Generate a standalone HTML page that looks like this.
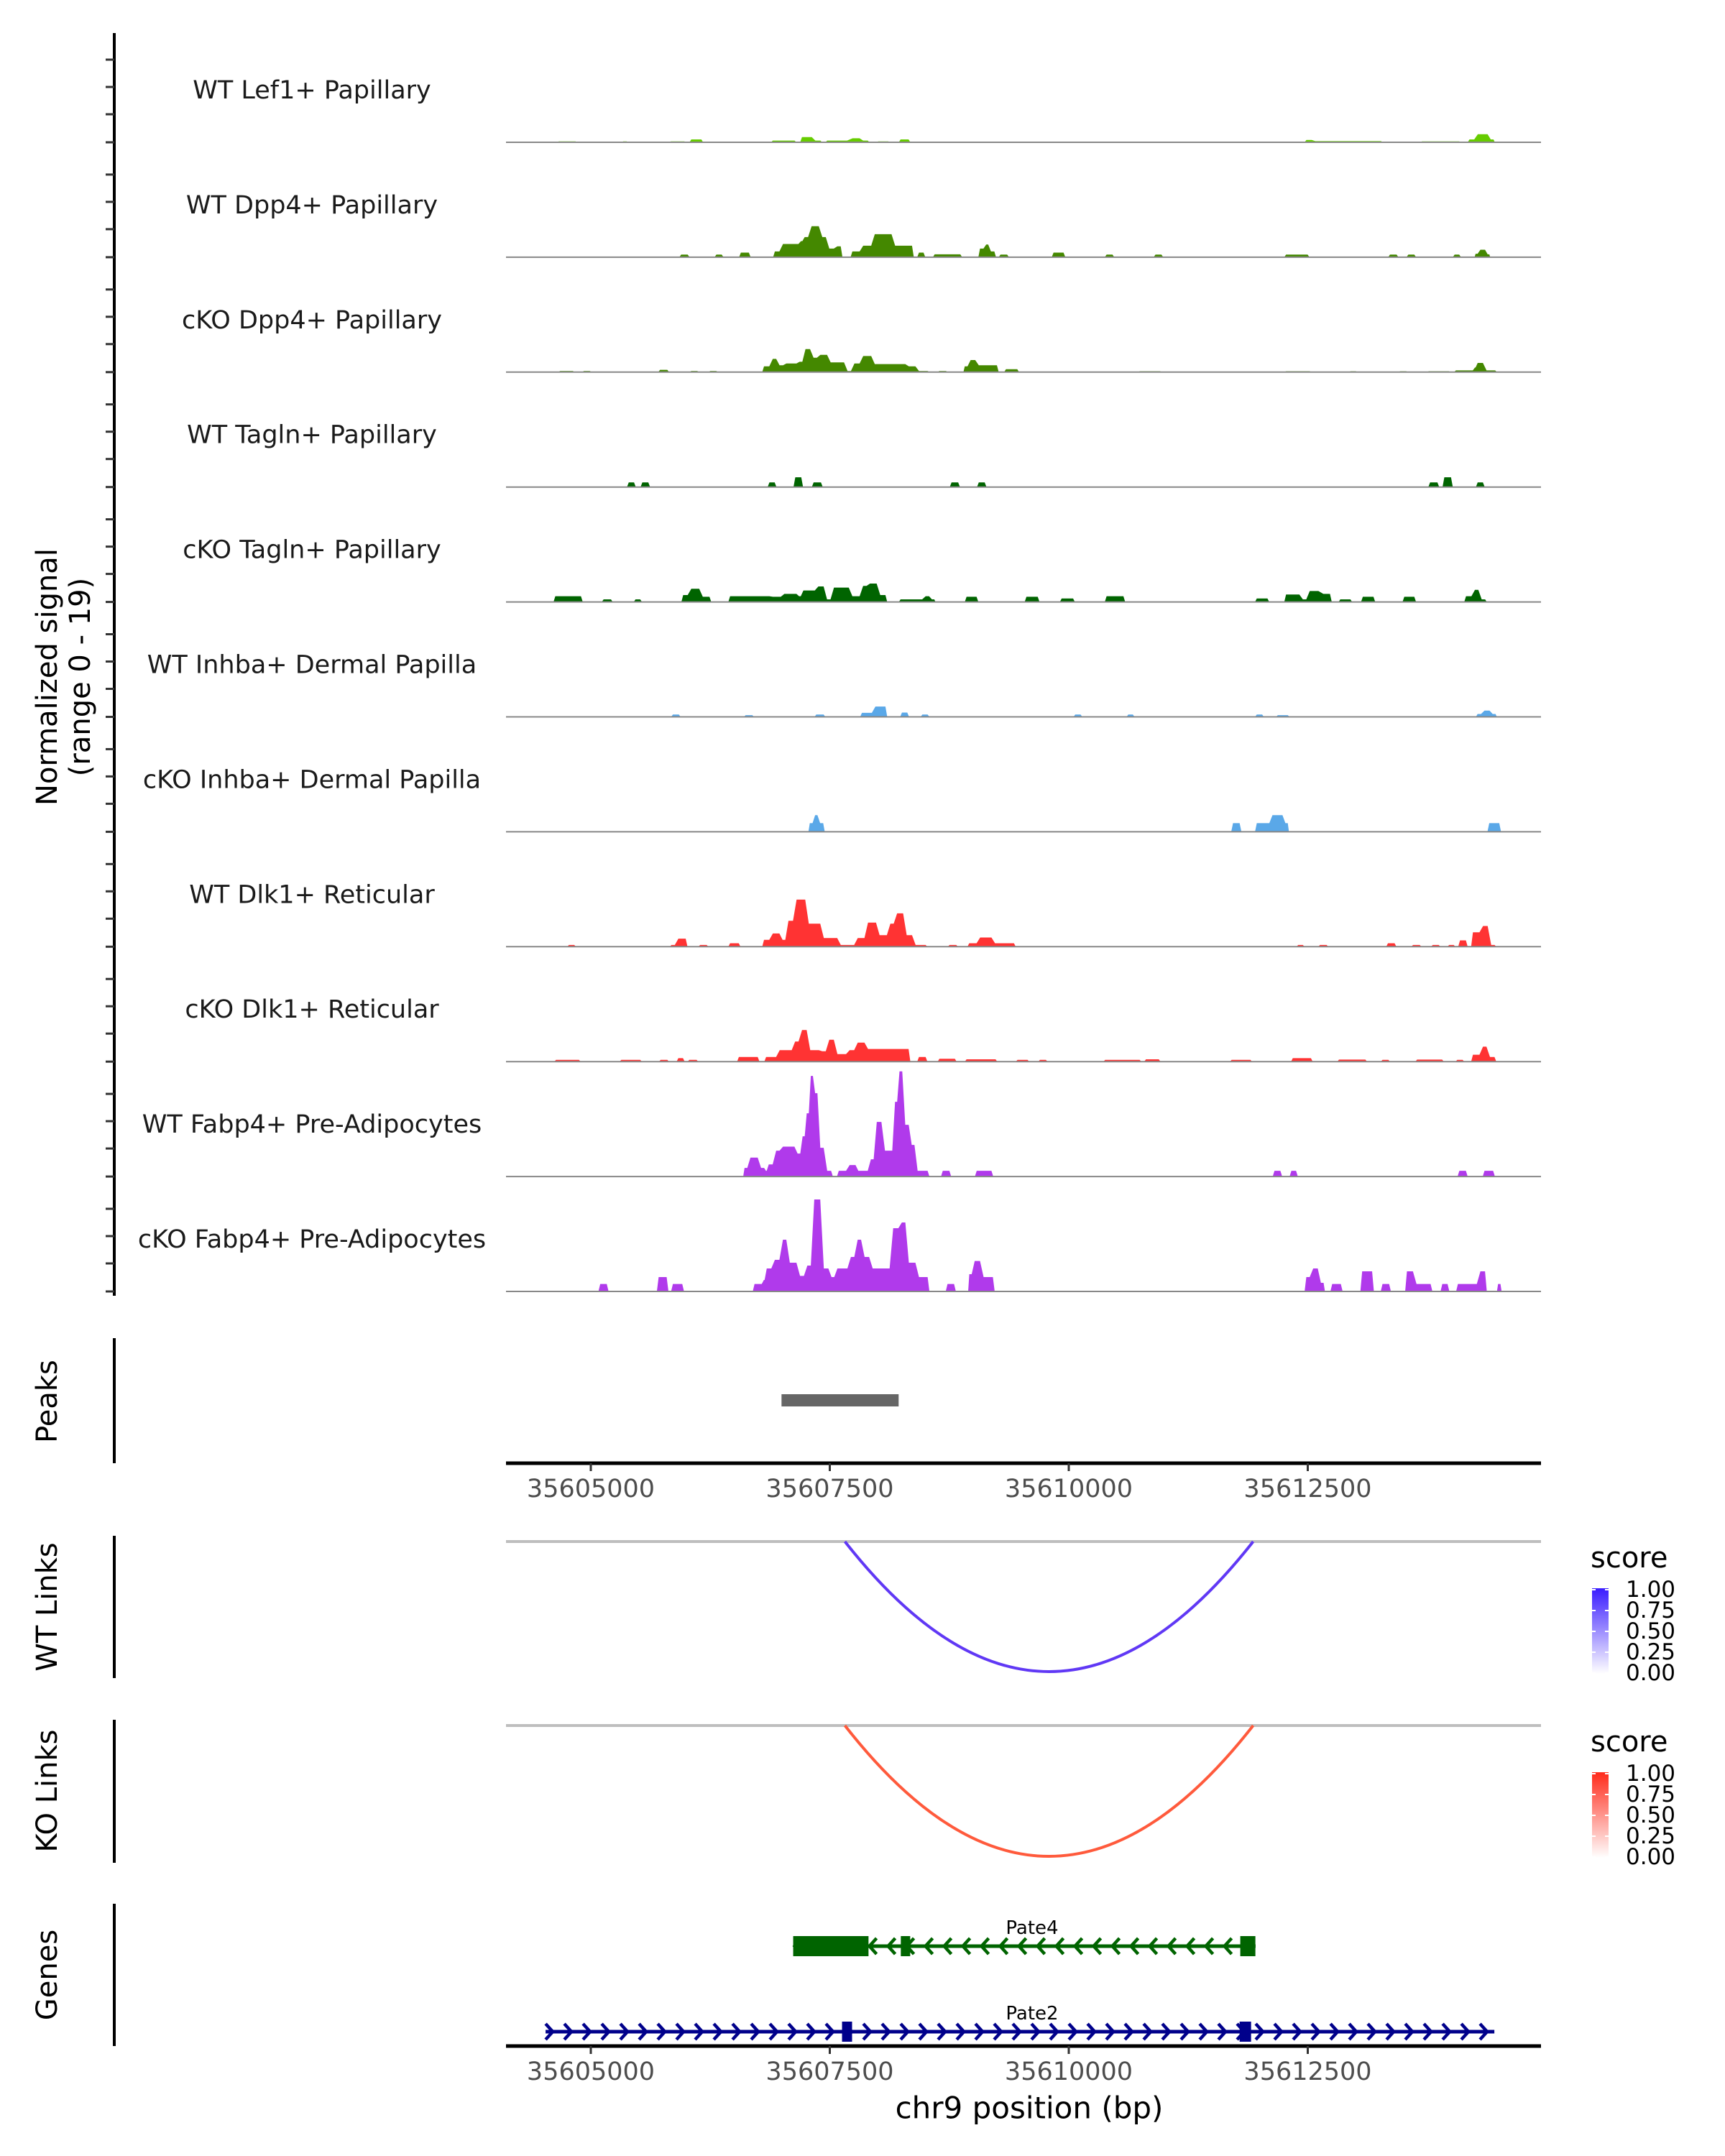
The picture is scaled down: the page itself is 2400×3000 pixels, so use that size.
<!DOCTYPE html>
<html><head><meta charset="utf-8"><style>
html,body{margin:0;padding:0;background:#fff;}
svg{display:block;font-family:"DejaVu Sans","Liberation Sans",sans-serif;}
</style></head><body>
<svg id="chart" width="2400" height="3000" viewBox="0 0 2400 3000" xmlns="http://www.w3.org/2000/svg">
<defs>
<linearGradient id="gWT" x1="0" y1="1" x2="0" y2="0"><stop offset="0" stop-color="#ffffff"/><stop offset="1" stop-color="#3a1cff"/></linearGradient>
<linearGradient id="gKO" x1="0" y1="1" x2="0" y2="0"><stop offset="0" stop-color="#ffffff"/><stop offset="1" stop-color="#ff2a1a"/></linearGradient>
</defs>
<g id="tracks"></g>
<g id="lower"></g>
</svg>
<script>
const trackNames = ["WT Lef1+ Papillary","WT Dpp4+ Papillary","cKO Dpp4+ Papillary","WT Tagln+ Papillary","cKO Tagln+ Papillary","WT Inhba+ Dermal Papilla","cKO Inhba+ Dermal Papilla","WT Dlk1+ Reticular","cKO Dlk1+ Reticular","WT Fabp4+ Pre-Adipocytes","cKO Fabp4+ Pre-Adipocytes"];
const trackColors = ["#66cc00","#448800","#448800","#006400","#006400","#5aa8e8","#5aa8e8","#ff3333","#ff3333","#b03aeb","#b03aeb"];
const xTicks = [35605000,35607500,35610000,35612500];
const yRangeMax = 19;
const lef1 = [[35604646,35604859,.15],[35605321,35605392,.15],[35605819,35605997,.15],[35606032,35606175,.5],[35606885,35607150,.3],[35607190,35607330,.9],[35607330,35607420,.3],[35607454,35607700,.3],[35607720,35607830,.7],[35607830,35607916,.3],[35607988,35608130,.15],[35608222,35608343,.5],[35608592,35609054,.1],[35609907,35610156,.1],[35612467,35612560,.4],[35612560,35613285,.2],[35613676,35614102,.15],[35614173,35614260,.5],[35614260,35614400,1.4],[35614400,35614457,.5]];
const wtDpp4 = [[35605926,35606032,.45],[35606295,35606388,.45],[35606551,35606672,.8],[35606907,35606992,1.0],[35606992,35607191,2.3],[35607191,35607220,2.8],[35607220,35607291,3.5],[35607291,35607404,5.4],[35607404,35607476,3.5],[35607476,35607561,1.5],[35607561,35607632,1.9],[35607717,35607831,1.0],[35607831,35607952,2.0],[35607952,35608165,4.0],[35608165,35608379,2.0],[35608414,35608499,.8],[35608578,35608884,.5],[35609054,35609125,1.5],[35609125,35609168,2.2],[35609168,35609239,1.0],[35609267,35609374,.45],[35609822,35609964,.8],[35610377,35610476,.45],[35610888,35610988,.45],[35612254,35612517,.45],[35613341,35613448,.45],[35613533,35613633,.45],[35614017,35614103,.45],[35614245,35614287,.6],[35614287,35614373,1.3],[35614373,35614408,.5]];
const koDpp4 = [[35604660,35604831,.2],[35604909,35605008,.2],[35605705,35605819,.4],[35606032,35606132,.2],[35606231,35606331,.2],[35606793,35606886,1.0],[35606886,35606957,2.3],[35606957,35607028,1.2],[35607028,35607170,1.5],[35607170,35607227,1.8],[35607227,35607312,4.0],[35607312,35607383,2.5],[35607383,35607490,3.0],[35607490,35607668,1.7],[35607668,35607739,.2],[35607739,35607831,1.5],[35607831,35607952,2.8],[35607952,35608308,1.4],[35608308,35608414,1.0],[35608414,35608542,.2],[35608628,35608734,.2],[35608898,35608955,1.0],[35608955,35609040,2.1],[35609040,35609267,1.2],[35609324,35609480,.5],[35610725,35610974,.15],[35612254,35612538,.15],[35612929,35613021,.15],[35613448,35613548,.15],[35613747,35613995,.15],[35614031,35614245,.3],[35614245,35614259,.8],[35614259,35614351,1.6],[35614351,35614479,.3]];
const wtTagln = [[35605378,35605471,.8],[35605520,35605620,.8],[35606850,35606942,.8],[35607120,35607220,1.7],[35607312,35607426,.8],[35608755,35608862,.8],[35609040,35609139,.8],[35613761,35613875,.8],[35613910,35614017,1.7],[35614259,35614351,.8]];
const koTagln = [[35604610,35604916,1.0],[35605115,35605229,.45],[35605449,35605535,.45],[35605947,35606032,1.2],[35606032,35606153,2.3],[35606153,35606260,.9],[35606438,35606886,1.0],[35606886,35607006,.9],[35607006,35607170,1.4],[35607170,35607205,1.0],[35607205,35607362,2.0],[35607362,35607454,2.7],[35607454,35607525,.45],[35607525,35607717,2.5],[35607717,35607831,1.0],[35607831,35607902,2.8],[35607902,35608009,3.2],[35608009,35608101,1.2],[35608222,35608329,.45],[35608343,35608485,.45],[35608485,35608556,1.0],[35608556,35608606,.45],[35608912,35609054,.9],[35609538,35609694,.9],[35609907,35610064,.6],[35610377,35610590,1.0],[35611948,35612097,.6],[35612254,35612431,1.3],[35612431,35612502,.45],[35612502,35612630,1.9],[35612644,35612751,1.4],[35612822,35612965,.45],[35613057,35613206,.9],[35613491,35613633,.9],[35614137,35614231,1.0],[35614231,35614302,2.1],[35614302,35614373,.45]];
const wtInhba = [[35605840,35605940,.4],[35606601,35606708,.3],[35607340,35607454,.4],[35607817,35607959,.7],[35607959,35608101,1.8],[35608236,35608329,.75],[35608450,35608542,.4],[35610049,35610142,.4],[35610604,35610689,.4],[35611948,35612041,.4],[35612168,35612310,.3],[35614259,35614330,.5],[35614330,35614420,1.1],[35614420,35614479,.5]];
const koInhba = [[35607277,35607334,1.5],[35607334,35607383,2.9],[35607383,35607447,1.5],[35611699,35611806,1.5],[35611948,35612041,1.5],[35612055,35612112,1.5],[35612112,35612254,2.9],[35612254,35612303,1.5],[35614380,35614522,1.5]];
const wtDlk1 = [[35604753,35604845,.3],[35605826,35605897,.3],[35605897,35606011,1.4],[35606125,35606231,.3],[35606438,35606566,.6],[35606793,35606886,1.2],[35606886,35606992,2.3],[35606992,35607049,1.2],[35607049,35607134,4.5],[35607134,35607262,8.2],[35607262,35607419,4.0],[35607419,35607596,1.5],[35607596,35607774,.3],[35607774,35607881,1.5],[35607881,35608002,4.2],[35608002,35608116,2.0],[35608116,35608186,4.0],[35608186,35608286,5.8],[35608286,35608379,2.0],[35608379,35608521,.3],[35608734,35608841,.3],[35608940,35609054,.6],[35609054,35609210,1.6],[35609210,35609445,.6],[35612381,35612467,.3],[35612609,35612716,.3],[35613320,35613427,.6],[35613583,35613690,.3],[35613789,35613889,.3],[35613960,35614045,.3],[35614074,35614173,1.1],[35614209,35614315,2.5],[35614315,35614401,3.6],[35614401,35614472,.3]];
const koDlk1 = [[35604617,35604895,.3],[35605300,35605535,.3],[35605712,35605819,.3],[35605897,35605983,.6],[35606011,35606125,.3],[35606530,35606765,.8],[35606815,35606957,.8],[35606957,35607120,2.0],[35607120,35607191,3.5],[35607191,35607277,5.5],[35607277,35607404,2.0],[35607404,35607476,1.8],[35607476,35607561,3.8],[35607561,35607689,1.3],[35607689,35607774,2.0],[35607774,35607881,3.3],[35607881,35608343,2.2],[35608414,35608521,.8],[35608628,35608827,.5],[35608912,35609253,.4],[35609445,35609587,.3],[35609680,35609779,.3],[35610362,35610760,.3],[35610789,35610960,.4],[35611685,35611919,.3],[35612325,35612552,.6],[35612808,35613121,.35],[35613263,35613362,.3],[35613625,35613924,.35],[35614045,35614138,.3],[35614209,35614315,1.2],[35614315,35614387,2.6],[35614387,35614472,.8]];
const wtFabp4 = [[35606594,35606651,1.5],[35606651,35606765,3.3],[35606765,35606829,1.5],[35606829,35606843,1.0],[35606843,35606921,2.1],[35606921,35606992,4.5],[35606992,35607149,5.2],[35607149,35607205,4.0],[35607205,35607248,7.0],[35607248,35607291,11.0],[35607291,35607334,17.5],[35607334,35607383,14.5],[35607383,35607454,5.0],[35607454,35607532,1.0],[35607575,35607689,1.0],[35607689,35607788,2.0],[35607788,35607831,1.0],[35607831,35607916,1.0],[35607916,35607973,3.0],[35607973,35608059,9.5],[35608059,35608172,4.5],[35608172,35608215,13.0],[35608215,35608272,18.3],[35608272,35608343,9.0],[35608343,35608400,5.5],[35608400,35608542,1.0],[35608663,35608770,1.0],[35609018,35609210,1.0],[35612133,35612232,1.0],[35612310,35612396,1.0],[35614067,35614173,1.0],[35614330,35614458,1.0]];
const koFabp4 = [[35605080,35605186,1.3],[35605691,35605812,2.5],[35605840,35605975,1.3],[35606694,35606807,1.3],[35606807,35606822,2.0],[35606822,35606907,4.0],[35606907,35606992,5.5],[35606992,35607063,9.0],[35607063,35607170,5.0],[35607170,35607248,2.7],[35607248,35607319,4.5],[35607319,35607419,16.0],[35607419,35607504,4.0],[35607504,35607561,2.5],[35607561,35607703,4.0],[35607703,35607774,6.0],[35607774,35607845,9.0],[35607845,35607930,6.0],[35607930,35608144,4.0],[35608144,35608236,11.0],[35608236,35608308,12.0],[35608308,35608414,5.0],[35608414,35608542,2.5],[35608713,35608819,1.3],[35608947,35608997,3.0],[35608997,35609090,5.3],[35609090,35609225,2.5],[35612467,35612538,2.5],[35612538,35612623,4.0],[35612623,35612680,1.5],[35612737,35612865,1.3],[35613050,35613192,3.5],[35613263,35613370,1.3],[35613519,35613619,3.5],[35613619,35613804,1.3],[35613889,35613981,1.3],[35614052,35614287,1.3],[35614287,35614373,3.5],[35614479,35614528,1.3]];
const trackData = [lef1,wtDpp4,koDpp4,wtTagln,koTagln,wtInhba,koInhba,wtDlk1,koDlk1,wtFabp4,koFabp4];
const peakRegions = [[35606995,35608220]];
const wtLinks = [[35607658,35611929,0.85]];
const koLinks = [[35607658,35611929,0.85]];
const pate4Span = [35607117,35611954];
const pate4Exons = [[35607117,35607905],[35608243,35608341],[35611794,35611952]];
const pate2Span = [35604527,35614452];
const pate2Exons = [[35607628,35607733],[35611787,35611907]];

const NS="http://www.w3.org/2000/svg";
const X0=704,X1=2144;
function xs(p){return 822+(p-35605000)*(1487-822)/5000;}
function mk(tag,attrs,parent){const e=document.createElementNS(NS,tag);for(const k in attrs)e.setAttribute(k,attrs[k]);parent.appendChild(e);return e;}
const T=document.getElementById('tracks'), L=document.getElementById('lower');
const pxPerUnit=152/yRangeMax;

let ax=mk('line',{x1:159,y1:46,x2:159,y2:1803,stroke:'#000','stroke-width':4},T);


trackData.forEach((blocks,i)=>{
  const b=198+i*159.9;
  const g=mk('g',{},T);
  
  
  [0,39,77,115].forEach(o=>{
    const t=mk('line',{x1:147,y1:b-o,x2:159,y2:b-o,stroke:'#333','stroke-width':3},g);
    
    
  });
  const lab=mk('text',{x:434,y:b-72,'font-size':35,'text-anchor':'middle','dominant-baseline':'central',fill:'#1a1a1a'},g);
  lab.textContent=trackNames[i];
  
  
  const sorted=blocks.slice().sort((a,c)=>a[0]-c[0]);
  let d='';
  sorted.forEach((blk,k)=>{
    const [s,e,h]=blk;
    const xa=xs(s),xb=xs(e),y=b-h*pxPerUnit;
    const ins=Math.min(2.5,(xb-xa)/4);
    const prev=sorted[k-1], next=sorted[k+1];
    const contPrev=prev && s-prev[1]<=20;
    const contNext=next && next[0]-e<=20;
    if(!contPrev) d+=`M${xa.toFixed(1)},${b}L${(xa+ins).toFixed(1)},${y.toFixed(1)}`;
    else d+=`L${(xa+ins).toFixed(1)},${y.toFixed(1)}`;
    d+=`L${(xb-ins).toFixed(1)},${y.toFixed(1)}`;
    if(!contNext) d+=`L${xb.toFixed(1)},${b}Z`;
  });
  const p=mk('path',{d:d,fill:trackColors[i]},g);
  
  
  const bl=mk('line',{x1:X0,y1:b,x2:X1,y2:b,stroke:'#888','stroke-width':2},g);
  
  
});
function rotText(txt,x,y,size,parent,name){
  const t=mk('text',{x:x,y:y,'font-size':size,'text-anchor':'middle','dominant-baseline':'central',transform:`rotate(-90 ${x} ${y})`,fill:'#000'},parent);
  t.textContent=txt;
  
  
}
rotText('Normalized signal',66,942,40,T,'y-axis-title');
rotText('(range 0 - 19)',112,942,40,T,'y-axis-subtitle');

function panelAxis(y1,y2,title,ty,name){
  const a=mk('line',{x1:159,y1:y1,x2:159,y2:y2,stroke:'#000','stroke-width':4},L);
  
  
  rotText(title,66,ty,40,L,name+'-title');
}
function xAxis(y,name){
  const g=mk('g',{},L);
  
  
  mk('line',{x1:X0,y1:y,x2:X1,y2:y,stroke:'#000','stroke-width':5},g);
  xTicks.forEach(v=>{
    mk('line',{x1:xs(v),y1:y,x2:xs(v),y2:y+11,stroke:'#333','stroke-width':3},g);
    const t=mk('text',{x:xs(v),y:y+36,'font-size':35,'text-anchor':'middle','dominant-baseline':'central',fill:'#4d4d4d'},g);
    t.textContent=String(v);
    
    
  });
}
panelAxis(1862,2036,'Peaks',1950,'peaks');
peakRegions.forEach(([s,e])=>{
  const r=mk('rect',{x:xs(s),y:1940,width:xs(e)-xs(s),height:17,fill:'#666'},L);
  
  
});
xAxis(2036,'peaks-x-axis');
function links(data,gy,by,color,grad,legY,name){
  const gl=mk('line',{x1:X0,y1:gy,x2:X1,y2:gy,stroke:'#bebebe','stroke-width':4},L);
  
  
  data.forEach(([s,e])=>{
    const xa=xs(s),xb=xs(e),yc=2*by-gy;
    const p=mk('path',{d:`M${xa},${gy}Q${(xa+xb)/2},${yc} ${xb},${gy}`,fill:'none',stroke:color,'stroke-width':4},L);
    
    
  });
  const lg=mk('g',{},L);
  
  
  const st=mk('text',{x:2213,y:legY,'font-size':40,'dominant-baseline':'central',fill:'#000'},lg);
  st.textContent='score';
  mk('rect',{x:2215,y:legY+42,width:23,height:119,fill:`url(#${grad})`},lg);
  ['1.00','0.75','0.50','0.25','0.00'].forEach((t,k)=>{
    const yy=legY+44+k*29;
    mk('line',{x1:2215,y1:yy,x2:2220,y2:yy,stroke:'#fff','stroke-width':2},lg);
    mk('line',{x1:2233,y1:yy,x2:2238,y2:yy,stroke:'#fff','stroke-width':2},lg);
    const tt=mk('text',{x:2262,y:yy,'font-size':31,'dominant-baseline':'central',fill:'#000'},lg);
    tt.textContent=t;
  });
}
panelAxis(2137,2335,'WT Links',2236,'wt-links');
links(wtLinks,2145,2326,'#6038f5','gWT',2168,'wt-links');
panelAxis(2393,2592,'KO Links',2492,'ko-links');
links(koLinks,2401,2583,'#ff5a3c','gKO',2424,'ko-links');
panelAxis(2649,2847,'Genes',2748,'genes');
function gene(span,exons,y,color,dir,label,name){
  const g=mk('g',{},L);
  
  
  const xa=xs(span[0]),xb=xs(span[1]);
  mk('line',{x1:xa,y1:y,x2:xb,y2:y,stroke:color,'stroke-width':5},g);
  let d='';
  for(let x=xa+6;x<xb-4;x+=26){
    if(dir>0) d+=`M${x-6},${y-11}L${x+4},${y}L${x-6},${y+11}`;
    else d+=`M${x+6},${y-11}L${x-4},${y}L${x+6},${y+11}`;
  }
  mk('path',{d:d,fill:'none',stroke:color,'stroke-width':4.5},g);
  exons.forEach(([s,e])=>{
    const r=mk('rect',{x:xs(s),y:y-14,width:Math.max(xs(e)-xs(s),12),height:28,fill:color},g);
    
    
  });
  const t=mk('text',{x:1436,y:y-25,'font-size':26,'text-anchor':'middle','dominant-baseline':'central',fill:'#000'},g);
  t.textContent=label;
  
  
}
gene(pate4Span,pate4Exons,2708,'#006400',-1,'Pate4','gene-pate4');
gene(pate2Span,pate2Exons,2827,'#00008b',1,'Pate2','gene-pate2');
xAxis(2847,'genes-x-axis');
const xt=mk('text',{x:1432,y:2933,'font-size':42,'text-anchor':'middle','dominant-baseline':'central',fill:'#000'},L);
xt.textContent='chr9 position (bp)';


</script>
</body></html>
